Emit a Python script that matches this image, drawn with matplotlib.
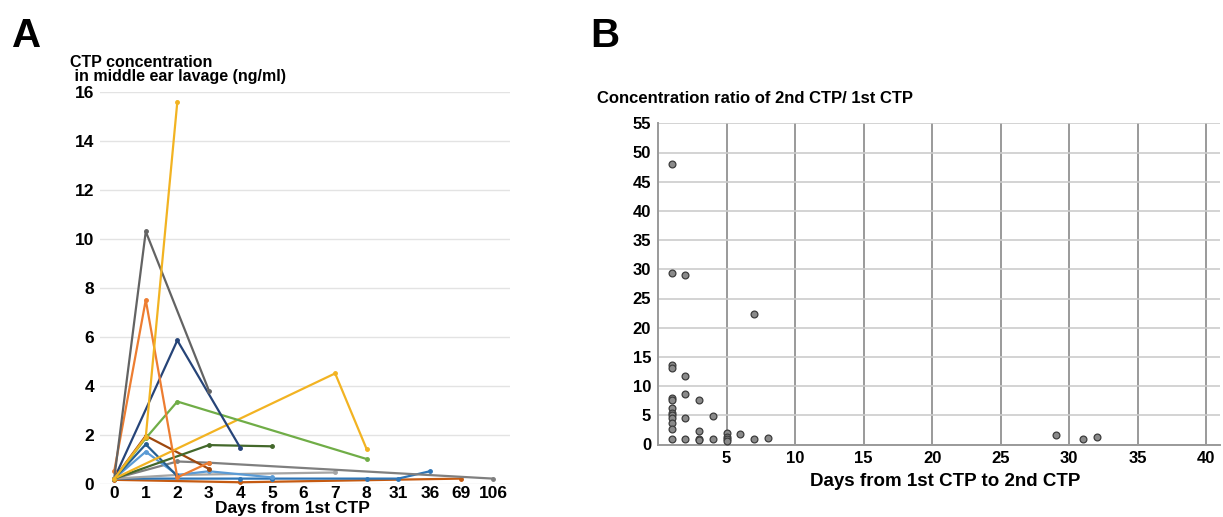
import matplotlib
matplotlib.use("Agg")
import matplotlib.pyplot as plt

plt.rcParams['font.family'] = ['Liberation Sans', 'DejaVu Sans']

# ---- panel A data: category axis of days, each patient a short series
days = [0, 1, 2, 3, 4, 5, 6, 7, 8, 31, 36, 69, 106]

s1_days = [0, 1, 3];           s1_vals = [0.2, 10.3, 3.8]
s2_days = [0, 1, 2, 3];        s2_vals = [0.5, 7.5, 0.25, 0.85]
s3_days = [0, 1, 2];           s3_vals = [0.2, 1.9, 15.6]
s4_days = [0, 2, 4];           s4_vals = [0.2, 5.85, 1.45]
s5_days = [0, 1, 2, 8];        s5_vals = [0.2, 1.85, 3.35, 1.0]
s6_days = [0, 7, 8];           s6_vals = [0.2, 4.5, 1.4]
s7_days = [0, 3, 5];           s7_vals = [0.2, 1.57, 1.52]
s8_days = [0, 1, 3];           s8_vals = [0.2, 1.95, 0.6]
s9_days = [0, 1, 2];           s9_vals = [0.2, 1.6, 0.3]
s10_days = [0, 1, 2, 3, 5];    s10_vals = [0.2, 1.3, 0.35, 0.5, 0.25]
s11_days = [0, 2, 3, 106];     s11_vals = [0.2, 0.9, 0.85, 0.2]
s12_days = [0, 2, 7];          s12_vals = [0.2, 0.35, 0.45]
s13_days = [0, 4, 5, 8, 31, 36]; s13_vals = [0.2, 0.2, 0.2, 0.2, 0.2, 0.5]
s14_days = [0, 4, 69];         s14_vals = [0.15, 0.05, 0.2]

series = [
    (s14_days, s14_vals, '#C55A11'),
    (s13_days, s13_vals, '#2E75B6'),
    (s12_days, s12_vals, '#A5A5A5'),
    (s11_days, s11_vals, '#7F7F7F'),
    (s10_days, s10_vals, '#5B9BD5'),
    (s9_days, s9_vals, '#255E91'),
    (s8_days, s8_vals, '#9E480E'),
    (s7_days, s7_vals, '#43682B'),
    (s6_days, s6_vals, '#F2B322'),
    (s5_days, s5_vals, '#70AD47'),
    (s4_days, s4_vals, '#264478'),
    (s2_days, s2_vals, '#ED7D31'),
    (s1_days, s1_vals, '#636363'),
    (s3_days, s3_vals, '#F2B322'),
]

# ---- panel B data: ratio 2nd/1st vs days between
ratio_days = [1, 1, 2, 1, 1, 1, 1, 1, 1, 1, 1, 1, 1, 1,
              2, 2, 2, 2, 3, 3, 3, 3, 4, 4, 5, 5, 5, 5,
              6, 7, 7, 8, 29, 31, 32]
ratio_vals = [48.0, 29.4, 29.1, 13.6, 13.1, 7.9, 7.7, 6.3, 5.4, 5.0, 4.6, 3.7, 2.7, 0.9,
              11.8, 8.7, 4.5, 0.9, 7.7, 2.3, 0.9, 0.8, 4.8, 0.9, 1.9, 1.3, 0.9, 0.6,
              1.8, 22.4, 0.9, 1.1, 1.7, 0.9, 1.3]

W, H = 1223, 517
fig = plt.figure(figsize=(W / 100, H / 100), dpi=100)

# ================= Panel A =================
axA = fig.add_axes([100 / W, 1 - 483.5 / H, 410 / W, 391.5 / H])
for d, v, c in series:
    pos = [days.index(x) for x in d]
    axA.plot(pos, v, color=c, lw=1.6, marker='o', ms=2.5, clip_on=False)
axA.set_xlim(-0.45, 12.54)
axA.set_ylim(0, 16)
axA.set_yticks(range(0, 17, 2))
axA.set_xticks(range(len(days)))
axA.set_xticklabels([str(d) for d in days])
axA.grid(axis='y', color='#e3e3e3', lw=1)
axA.set_axisbelow(True)
for sp in axA.spines.values():
    sp.set_visible(False)
axA.tick_params(length=0, labelsize=12.5, pad=4)
for lab in axA.get_xticklabels() + axA.get_yticklabels():
    lab.set_fontweight('bold')
axA.tick_params(axis='x', pad=2)

fig.text(12 / W, 1 - 47 / H, 'A', fontsize=29, fontweight='bold', va='baseline')
fig.text(70 / W, 1 - 55 / H, 'CTP concentration\n in middle ear lavage (ng/ml)',
         fontsize=11.5, fontweight='bold', va='top', linespacing=0.92)
fig.text(292 / W, 1 - 508 / H, 'Days from 1st CTP', fontsize=12.5,
         fontweight='bold', ha='center', va='center')

# ================= Panel B =================
axB = fig.add_axes([658 / W, 1 - 444.5 / H, 562 / W, 321.2 / H])
axB.scatter(ratio_days, ratio_vals, s=24, color='#8a8a8a', edgecolor='#3c3c3c',
            lw=0.9, zorder=3, clip_on=False)
axB.set_xlim(0, 41)
axB.set_ylim(0, 55)
axB.set_xticks(range(5, 41, 5))
axB.set_yticks(range(0, 56, 5))
axB.grid(axis='x', color='#9a9a9a', lw=1.4)
axB.grid(axis='y', color='#cccccc', lw=1.2)
axB.set_axisbelow(True)
axB.spines['top'].set_visible(False)
axB.spines['right'].set_visible(False)
for s in ('left', 'bottom'):
    axB.spines[s].set_color('#9a9a9a')
    axB.spines[s].set_linewidth(1.4)
axB.tick_params(length=0, labelsize=12, pad=5)
for lab in axB.get_xticklabels() + axB.get_yticklabels():
    lab.set_fontweight('bold')
    lab.set_family(['Liberation Sans Narrow', 'Liberation Sans'])

fig.text(590 / W, 1 - 47 / H, 'B', fontsize=29, fontweight='bold', va='baseline')
fig.text(597 / W, 1 - 99 / H, 'Concentration ratio of 2nd CTP/ 1st CTP',
         fontsize=12, fontweight='bold', va='center',
         family=['Liberation Sans Narrow', 'Liberation Sans'])
fig.text(945 / W, 1 - 481 / H, 'Days from 1st CTP to 2nd CTP', fontsize=13.5,
         fontweight='bold', ha='center', va='center',
         family=['Liberation Sans Narrow', 'Liberation Sans'])

fig.savefig('out.png', dpi=100)
